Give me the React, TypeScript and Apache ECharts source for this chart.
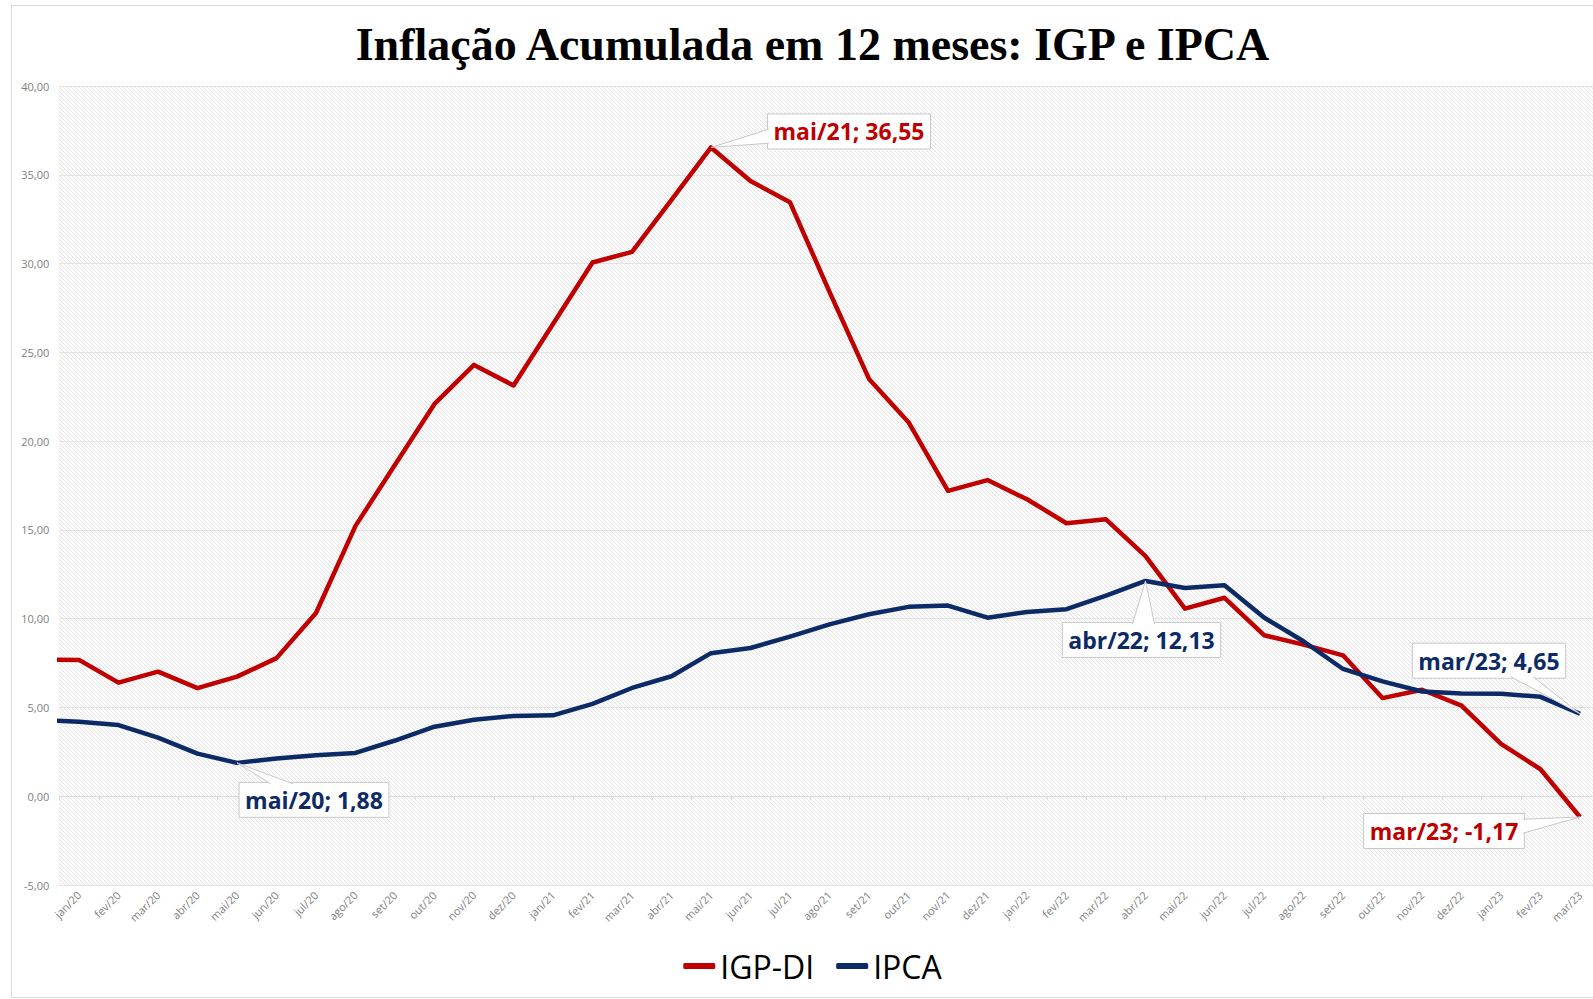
import React, { useEffect, useRef } from "react";
import * as echarts from "echarts";

// Months: the first one (dez/19) sits just outside the left edge of the plot and is clipped
const months = [
  "dez/19",
  "jan/20", "fev/20", "mar/20", "abr/20", "mai/20", "jun/20", "jul/20", "ago/20", "set/20", "out/20", "nov/20", "dez/20",
  "jan/21", "fev/21", "mar/21", "abr/21", "mai/21", "jun/21", "jul/21", "ago/21", "set/21", "out/21", "nov/21", "dez/21",
  "jan/22", "fev/22", "mar/22", "abr/22", "mai/22", "jun/22", "jul/22", "ago/22", "set/22", "out/22", "nov/22", "dez/22",
  "jan/23", "fev/23", "mar/23",
];

const igpDi = [
  7.70,
  7.68, 6.40, 7.02, 6.09, 6.74, 7.78, 10.32, 15.23, 18.67, 22.10, 24.30, 23.14,
  26.60, 30.07, 30.67, 33.60, 36.55, 34.66, 33.46, 28.41, 23.51, 21.07, 17.20, 17.81,
  16.73, 15.38, 15.60, 13.53, 10.57, 11.18, 9.07, 8.54, 7.94, 5.53, 6.00, 5.11,
  2.95, 1.52, -1.17,
];

const ipca = [
  4.31,
  4.19, 4.01, 3.30, 2.40, 1.88, 2.13, 2.31, 2.44, 3.14, 3.92, 4.31, 4.52,
  4.56, 5.20, 6.10, 6.76, 8.06, 8.35, 8.99, 9.68, 10.25, 10.67, 10.74, 10.06,
  10.38, 10.54, 11.30, 12.13, 11.73, 11.89, 10.07, 8.73, 7.17, 6.47, 5.90, 5.79,
  5.77, 5.60, 4.65,
];

const seriesNames = ["IGP-DI", "IPCA"];
const yMin = -5;
const yMax = 40;
const yStep = 5;

const titleText = "Inflação Acumulada em 12 meses: IGP e IPCA";

// annotated points (series index, month) and pixel offset of the callout box centre
const callouts = [
  { series: 0, month: "mai/21", dx: 138, dy: -16 },
  { series: 1, month: "mai/20", dx: 77, dy: 37 },
  { series: 1, month: "abr/22", dx: -4, dy: 59 },
  { series: 1, month: "mar/23", dx: -91, dy: -53 },
  { series: 0, month: "mar/23", dx: -136, dy: 14 },
];

const COLORS = ["#c00000", "#0c2a66"];
const W = 1625;
const H = 999;

const fmt = (v: number) => v.toFixed(2).replace(".", ",");
const clamp = (v: number, a: number, b: number) => Math.max(a, Math.min(b, v));

export default function App() {
  const ref = useRef<HTMLDivElement>(null);

  useEffect(() => {
    if (!ref.current) return;
    const chart = echarts.init(ref.current, null, { renderer: "svg" });
    const cats = months.slice(1);
    const seriesValues = [igpDi, ipca];

    const hatchSvg =
      "<svg xmlns='http://www.w3.org/2000/svg' width='4' height='4'>" +
      "<rect width='4' height='4' fill='#fbfbfb'/>" +
      "<path d='M-1,-1 L5,5 M-1,3 L1,5 M3,-1 L5,1' stroke='#e6e6e6' stroke-width='1'/></svg>";
    const hatch = "data:image/svg+xml;utf8," + encodeURIComponent(hatchSvg);

    const calloutData = callouts.map((c) => {
      const i = months.indexOf(c.month);
      return [i - 1, seriesValues[c.series][i]];
    });

    const labelFont = 'bold 23px "Open Sans"';

    const option: any = {
      animation: false,
      textStyle: { fontFamily: '"Open Sans", sans-serif' },
      title: {
        text: titleText,
        left: "center",
        top: 16,
        textStyle: {
          fontFamily: '"Liberation Serif", serif',
          fontWeight: "bold",
          fontSize: 46,
          color: "#000",
        },
      },
      graphic: [
        {
          type: "rect",
          shape: { x: 11.5, y: 5.5, width: W - 23, height: H - 7 },
          style: { fill: "none", stroke: "#d9d9d9", lineWidth: 1 },
          z: 100,
          silent: true,
        },
      ],
      legend: {
        data: seriesNames,
        left: "center",
        top: 945,
        icon: "roundRect",
        itemWidth: 32,
        itemHeight: 6,
        itemGap: 22,
        textStyle: { fontSize: 32, color: "#000", fontFamily: '"Open Sans", sans-serif' },
      },
      grid: {
        left: 59.25,
        right: W - 1599.75,
        top: 86.2,
        bottom: H - 885,
        show: true,
        borderWidth: 0,
        backgroundColor: {
          image: hatch,
          repeat: "repeat",
          imageWidth: 4,
          imageHeight: 4,
        },
      },
      xAxis: [
        {
          type: "category",
          data: cats,
          position: "bottom",
          boundaryGap: true,
          axisLine: { show: false, onZero: false },
          axisTick: { show: false },
          axisLabel: {
            rotate: 45,
            interval: 0,
            margin: 8,
            color: "#808080",
            fontSize: 11,
            fontFamily: '"Open Sans", sans-serif',
          },
          splitLine: { show: false },
        },
        {
          type: "category",
          data: cats,
          position: "bottom",
          boundaryGap: true,
          axisLine: { show: true, onZero: true, lineStyle: { color: "#dcdcdc", width: 1 } },
          axisTick: { show: true, length: 4, interval: 0, lineStyle: { color: "#dcdcdc" } },
          axisLabel: { show: false },
          splitLine: { show: false },
        },
        {
          type: "value",
          min: -0.5,
          max: cats.length - 0.5,
          show: false,
          splitLine: { show: false },
        },
      ],
      yAxis: {
        type: "value",
        min: yMin,
        max: yMax,
        interval: yStep,
        axisLine: { show: false },
        axisTick: { show: false },
        axisLabel: {
          formatter: (v: number) => fmt(v),
          color: "#808080",
          fontSize: 11,
          margin: 10,
          fontFamily: '"Open Sans", sans-serif',
        },
        splitLine: { lineStyle: { color: "#e4e4e4", width: 1 } },
      },
      series: [
        ...seriesNames.map((name, s) => ({
          type: "line",
          name,
          xAxisIndex: 2,
          yAxisIndex: 0,
          data: seriesValues[s].map((v, i) => [i - 1, v]),
          showSymbol: false,
          clip: true,
          color: COLORS[s],
          itemStyle: { color: COLORS[s] },
          lineStyle: { color: COLORS[s], width: 4.5, join: "round" },
          z: 3 + s,
        })),
        {
          type: "custom",
          xAxisIndex: 2,
          yAxisIndex: 0,
          z: 10,
          silent: true,
          clip: false,
          data: calloutData,
          renderItem: (params: any, api: any) => {
            const c = callouts[params.dataIndex];
            const val = api.value(1);
            const p = api.coord([api.value(0), val]);
            const text = `${c.month}; ${fmt(val)}`;
            const tr = new echarts.graphic.Text({ style: { text, font: labelFont } }).getBoundingRect();
            const bw = tr.width + 12;
            const bh = 35;
            const cx = p[0] + c.dx;
            const cy = p[1] + c.dy;
            const L = cx - bw / 2, R = cx + bw / 2, T = cy - bh / 2, B = cy + bh / 2;
            const half = 11;
            let b0: number[], b1: number[];
            if (p[1] < T) {
              const bx = (cx + clamp(p[0], L + half, R - half)) / 2;
              b0 = [bx - half, T + 1.5]; b1 = [bx + half, T + 1.5];
            } else if (p[1] > B) {
              const bx = (cx + clamp(p[0], L + half, R - half)) / 2;
              b0 = [bx - half, B - 1.5]; b1 = [bx + half, B - 1.5];
            } else if (p[0] < L) {
              const by = (cy + clamp(p[1], T + 8, B - 8)) / 2;
              b0 = [L + 1.5, by - 7]; b1 = [L + 1.5, by + 7];
            } else {
              const by = (cy + clamp(p[1], T + 8, B - 8)) / 2;
              b0 = [R - 1.5, by - 7]; b1 = [R - 1.5, by + 7];
            }
            return {
              type: "group",
              children: [
                {
                  type: "rect",
                  shape: { x: L, y: T, width: bw, height: bh },
                  style: { fill: "#ffffff", stroke: "#c8c8c8", lineWidth: 1 },
                },
                {
                  type: "polygon",
                  shape: { points: [p, b0, b1] },
                  style: { fill: "#ffffff", stroke: null },
                },
                {
                  type: "polyline",
                  shape: { points: [b0, p, b1] },
                  style: { fill: null, stroke: "#c8c8c8", lineWidth: 1 },
                },
                {
                  type: "text",
                  x: cx,
                  y: cy,
                  style: {
                    text,
                    font: labelFont,
                    fill: COLORS[c.series],
                    align: "center",
                    verticalAlign: "middle",
                  },
                },
              ],
            };
          },
        },
      ],
    };

    chart.setOption(option);
    return () => chart.dispose();
  }, []);

  return (
    <div
      style={{
        position: "fixed",
        left: 0,
        top: 0,
        width: 1593,
        height: H,
        overflow: "hidden",
        background: "#fff",
      }}
    >
      <div ref={ref} style={{ width: W, height: H }} />
    </div>
  );
}
